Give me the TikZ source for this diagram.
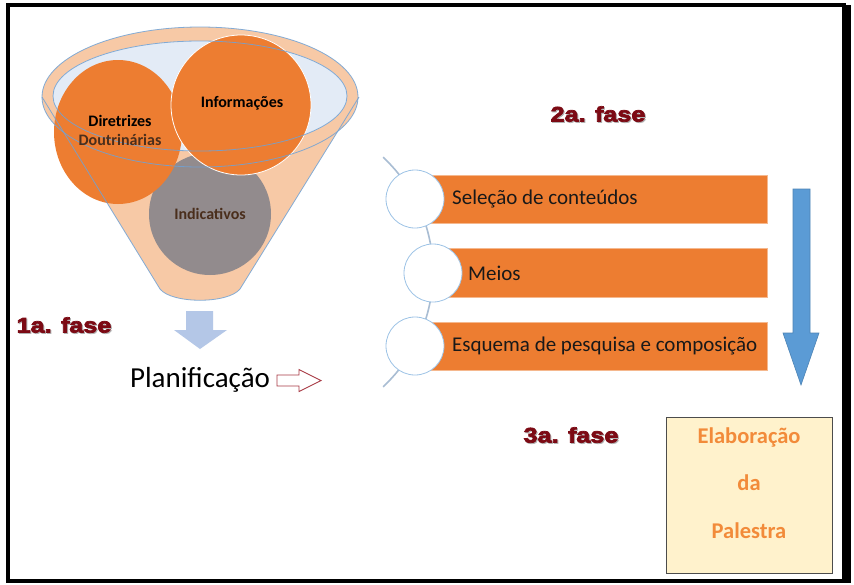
\documentclass[tikz,border=0pt]{standalone}
\usepackage{fontspec}
\setmainfont{Carlito}
\newfontfamily\phasefont[FakeBold=3.5, FakeStretch=1.2]{Liberation Sans Bold}
\definecolor{funnelfill}{HTML}{F7C9A6}
\definecolor{funnelline}{HTML}{6FA2D6}
\definecolor{innerfill}{HTML}{E3EBF6}
\definecolor{orangeA}{HTML}{ED7D31}
\definecolor{grayC}{HTML}{928B8D}
\definecolor{darkbrown}{HTML}{4A2E1C}
\definecolor{phasered}{HTML}{7C0A14}
\definecolor{lightarrow}{HTML}{B4C7E7}
\definecolor{hollowred}{HTML}{A83A44}
\definecolor{listline}{HTML}{A9BDD3}
\definecolor{circline}{HTML}{9DC3E6}
\definecolor{bluearrow}{HTML}{5B9BD5}
\definecolor{boxfill}{HTML}{FFF2CC}
\definecolor{boxtext}{HTML}{F28B3A}
\tikzset{
  phase/.style={font=\phasefont\fontsize{21}{24}\selectfont, text=phasered, inner sep=0pt},
  phaseshadow/.style={font=\phasefont\fontsize{21}{24}\selectfont, text=black!30, inner sep=0pt},
  bar/.style={fill=orangeA, draw=orangeA!60!white, line width=0.5pt},
  listcirc/.style={circle, fill=white, draw=circline, line width=0.8pt, minimum size=58pt, inner sep=0pt},
  listtext/.style={font=\fontsize{21}{24}\selectfont, anchor=west, inner sep=0pt, text=black!90},
  bubbletext/.style={font=\bfseries\fontsize{16}{18}\selectfont, inner sep=0pt},
  boxtxt/.style={font=\bfseries\fontsize{22.5}{25}\selectfont, text=boxtext, inner sep=0pt}
}
\begin{document}
\begin{tikzpicture}[x=1pt,y=-1pt]
\useasboundingbox (0,0) rectangle (854,584);
% frame
\fill[white] (0,0) rectangle (854,584);
\draw[line width=4pt] (8,5) -- (846,5);
\draw[line width=4pt] (8,3) -- (8,582);
\draw[line width=4pt] (6,581) -- (846,581);
\fill[black] (842,5) rectangle (851,583);

% funnel body
\fill[funnelfill] (42,97) -- (160,289) .. controls (172,304) and (228,304) .. (240,289) -- (359,97) -- cycle;
\fill[funnelfill] (200,97) ellipse [x radius=158, y radius=70];
\fill[innerfill] (200,96) ellipse [x radius=147, y radius=55];

% circles
\fill[grayC] (210,214) circle [radius=61];
\fill[orangeA] (118,132) ellipse [x radius=64, y radius=72];
\filldraw[orangeA, draw=white, line width=0.8pt] (241,105) circle [radius=70];

% outlines on top
\draw[funnelline, line width=0.8pt, opacity=0.85] (42,97) -- (160,289) .. controls (172,304) and (228,304) .. (240,289) -- (359,97);
\draw[funnelline, line width=0.8pt, opacity=0.85] (200,97) ellipse [x radius=158, y radius=70];
\draw[funnelline, line width=0.8pt, opacity=0.85] (200,96) ellipse [x radius=147, y radius=55];

% bubble texts
\node[bubbletext] (dir) at (120,121) {Diretrizes};
\node[bubbletext, text=darkbrown] (dou) at (120,140) {Doutrinárias};
\node[bubbletext] (inf) at (242,103) {Informações};
\node[bubbletext, text=darkbrown] (ind) at (210,214) {Indicativos};

% arrow below funnel
\fill[lightarrow] (186,311) -- (213,311) -- (213,330) -- (227,330) -- (200,349) -- (174,330) -- (186,330) -- cycle;

% phase labels
\node[phaseshadow] at (65,326) {1a. fase};
\node[phase] (f1) at (64,325) {1a. fase};
\node[phaseshadow] at (599,115) {2a. fase};
\node[phase] (f2) at (598,114) {2a. fase};
\node[phaseshadow] at (572,436) {3a. fase};
\node[phase] (f3) at (571,435) {3a. fase};

% Planificacao
\node[font=\fontsize{29}{32}\selectfont, inner sep=0pt, anchor=base] (plan) at (200,387) {Planificação};
\draw[hollowred, fill=white, line width=0.9pt] (277,375) -- (299,375) -- (299,369.5) -- (321,380.5) -- (299,391.5) -- (299,386) -- (277,386) -- cycle;

% vertical list
\draw[listline, line width=1.6pt] plot[domain=-47:47, samples=60, smooth] ({276+157*cos(\x)},{272+157*sin(\x)});
\fill[bar] (430,175) rectangle (767,223);
\draw[orangeA!55!white, line width=0.5pt] (430,175) rectangle (767,223);
\fill[bar] (430,248) rectangle (767,297);
\draw[orangeA!55!white, line width=0.5pt] (430,248) rectangle (767,297);
\fill[bar] (430,322) rectangle (767,370);
\draw[orangeA!55!white, line width=0.5pt] (430,322) rectangle (767,370);
\node[listcirc] (c1) at (415,199) {};
\node[listcirc] (c2) at (433,273) {};
\node[listcirc] (c3) at (415,346) {};
\node[listtext] (t1) at (452,199) {Seleção de conteúdos};
\node[listtext] (t2) at (468,273) {Meios};
\node[listtext] (t3) at (452,346) {Esquema de pesquisa e composição};

% big blue arrow
\filldraw[fill=bluearrow, draw=bluearrow!85!black, line width=0.6pt] (793,189) -- (810,189) -- (810,333) -- (819,333) -- (801,385) -- (783,333) -- (793,333) -- cycle;

% final box
\draw[fill=boxfill, draw=black!70, line width=0.8pt] (666,417) rectangle (832,573);
\node[boxtxt] (b1) at (749,437) {Elaboração};
\node[boxtxt] (b2) at (749,483) {da};
\node[boxtxt] (b3) at (749,531) {Palestra};
\end{tikzpicture}
\end{document}
